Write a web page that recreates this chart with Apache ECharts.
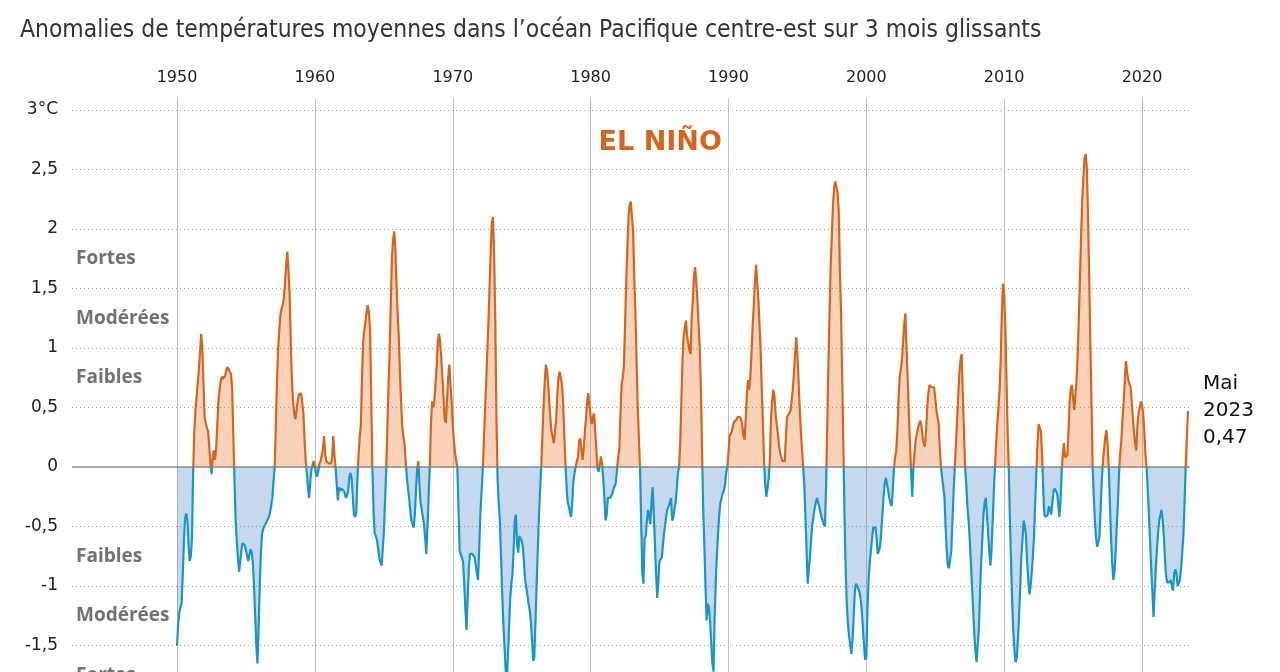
<!DOCTYPE html>
<html>
<head>
<meta charset="utf-8">
<script src="https://cdn.jsdelivr.net/npm/echarts@6/dist/echarts.min.js"></script>
<style>
html,body{margin:0;padding:0;background:#ffffff;}
#chart{width:1280px;height:672px;}
</style>
</head>
<body>
<div id="chart"></div>
<script>
// ---------- DATA (3-month running mean SST anomaly, central-east Pacific, monthly from Jan 1950) ----------
const startYear = 1950;
const titleText = "Anomalies de températures moyennes dans l’océan Pacifique centre-est sur 3 mois glissants";
const monthNamesFr = ["Janv.", "Févr.", "Mars", "Avril", "Mai", "Juin", "Juil.", "Août", "Sept.", "Oct.", "Nov.", "Déc."];

const anom1950s = [
  -1.50, -1.32, -1.22, -1.18, -1.14, -0.90, -0.62, -0.43, -0.39, -0.45, -0.65, -0.79,
  -0.75, -0.60, -0.05, 0.30, 0.48, 0.58, 0.70, 0.82, 0.96, 1.12, 1.00, 0.70,
  0.42, 0.37, 0.33, 0.30, 0.18, 0.04, -0.06, 0.08, 0.14, 0.06, 0.15, 0.35,
  0.55, 0.65, 0.72, 0.76, 0.74, 0.73, 0.77, 0.82, 0.84, 0.82, 0.80, 0.78,
  0.65, 0.25, -0.10, -0.45, -0.62, -0.76, -0.88, -0.80, -0.70, -0.64, -0.63, -0.66,
  -0.70, -0.75, -0.79, -0.74, -0.69, -0.72, -0.80, -1.00, -1.25, -1.50, -1.65, -1.35,
  -1.00, -0.72, -0.56, -0.52, -0.50, -0.48, -0.46, -0.44, -0.42, -0.38, -0.32, -0.26,
  -0.12, 0.00, 0.35, 0.72, 1.00, 1.15, 1.28, 1.33, 1.36, 1.42, 1.55, 1.70,
  1.81, 1.65, 1.45, 1.05, 0.72, 0.55, 0.45, 0.40, 0.48, 0.55, 0.61, 0.60,
  0.62, 0.62, 0.45, 0.23, 0.05, -0.05, -0.18, -0.26, -0.12, -0.02, 0.02, 0.05
];
const anom1960s = [
  0.00, -0.06, -0.08, -0.03, 0.03, 0.05, 0.05, 0.15, 0.26, 0.10, 0.05, 0.04,
  0.03, 0.04, 0.03, 0.08, 0.26, 0.10, 0.00, -0.15, -0.28, -0.17, -0.20, -0.18,
  -0.17, -0.20, -0.22, -0.26, -0.24, -0.20, -0.08, -0.05, -0.10, -0.25, -0.40, -0.42,
  -0.39, -0.10, 0.10, 0.25, 0.35, 0.75, 1.05, 1.15, 1.22, 1.30, 1.36, 1.30,
  1.16, 0.60, 0.00, -0.35, -0.56, -0.58, -0.61, -0.68, -0.76, -0.80, -0.83, -0.70,
  -0.55, -0.30, -0.05, 0.30, 0.65, 0.95, 1.35, 1.75, 1.90, 1.98, 1.85, 1.55,
  1.30, 1.10, 0.80, 0.55, 0.35, 0.25, 0.20, 0.05, -0.08, -0.18, -0.26, -0.36,
  -0.45, -0.48, -0.51, -0.40, -0.20, -0.02, 0.05, -0.15, -0.30, -0.36, -0.36, -0.48,
  -0.60, -0.73, -0.50, -0.25, 0.00, 0.35, 0.55, 0.50, 0.55, 0.70, 0.85, 1.05,
  1.12, 1.05, 0.92, 0.75, 0.58, 0.40, 0.37, 0.55, 0.75, 0.86, 0.70, 0.55
];
const anom1970s = [
  0.35, 0.22, 0.12, 0.05, 0.00, -0.35, -0.70, -0.74, -0.76, -0.80, -0.98, -1.20,
  -1.37, -1.10, -0.85, -0.73, -0.73, -0.73, -0.74, -0.76, -0.82, -0.90, -0.95, -0.70,
  -0.40, -0.22, -0.05, 0.20, 0.45, 0.68, 0.95, 1.20, 1.50, 1.80, 2.05, 2.10,
  1.80, 1.25, 0.45, -0.10, -0.30, -0.45, -0.75, -1.05, -1.30, -1.50, -1.70, -1.80,
  -1.60, -1.35, -1.10, -0.98, -0.90, -0.70, -0.45, -0.40, -0.65, -0.72, -0.58, -0.58,
  -0.62, -0.67, -0.80, -0.95, -1.01, -1.08, -1.15, -1.20, -1.30, -1.45, -1.63, -1.60,
  -1.30, -1.00, -0.70, -0.42, -0.20, 0.00, 0.25, 0.50, 0.70, 0.86, 0.82, 0.70,
  0.55, 0.40, 0.30, 0.25, 0.20, 0.30, 0.40, 0.60, 0.75, 0.80, 0.79, 0.70,
  0.55, 0.30, 0.05, -0.15, -0.30, -0.33, -0.38, -0.42, -0.30, -0.12, -0.05, 0.00,
  0.05, 0.08, 0.22, 0.24, 0.15, 0.06, 0.15, 0.30, 0.40, 0.55, 0.62, 0.52
];
const anom1980s = [
  0.42, 0.36, 0.42, 0.45, 0.30, 0.15, -0.02, -0.04, -0.05, 0.09, 0.02, -0.10,
  -0.26, -0.45, -0.40, -0.26, -0.26, -0.26, -0.26, -0.22, -0.18, -0.16, -0.13, -0.02,
  0.08, 0.15, 0.45, 0.70, 0.75, 0.85, 1.20, 1.55, 1.85, 2.10, 2.20, 2.23,
  2.10, 1.98, 1.60, 1.30, 0.90, 0.51, 0.25, 0.00, -0.45, -0.89, -0.98, -0.60,
  -0.58, -0.45, -0.36, -0.42, -0.48, -0.30, -0.17, -0.40, -0.65, -0.90, -1.10, -0.95,
  -0.79, -0.78, -0.76, -0.65, -0.55, -0.48, -0.40, -0.35, -0.33, -0.30, -0.26, -0.45,
  -0.42, -0.35, -0.30, -0.18, -0.05, 0.00, 0.20, 0.55, 0.90, 1.10, 1.17, 1.23,
  1.10, 1.04, 0.98, 0.95, 1.25, 1.40, 1.60, 1.68, 1.55, 1.40, 1.20, 1.00,
  0.65, 0.15, -0.35, -0.65, -1.00, -1.29, -1.15, -1.18, -1.29, -1.48, -1.65, -1.72,
  -1.25, -0.95, -0.73, -0.55, -0.40, -0.30, -0.26, -0.22, -0.20, -0.15, -0.05, 0.00
];
const anom1990s = [
  0.12, 0.26, 0.28, 0.30, 0.35, 0.38, 0.39, 0.40, 0.42, 0.42, 0.42, 0.40,
  0.35, 0.26, 0.23, 0.40, 0.60, 0.73, 0.65, 0.75, 0.95, 1.17, 1.35, 1.55,
  1.70, 1.55, 1.42, 1.20, 0.98, 0.65, 0.36, 0.05, -0.15, -0.25, -0.25, -0.10,
  0.05, 0.40, 0.55, 0.65, 0.60, 0.45, 0.36, 0.28, 0.18, 0.12, 0.08, 0.05,
  0.05, 0.05, 0.25, 0.42, 0.44, 0.45, 0.47, 0.48, 0.65, 0.79, 0.95, 1.09,
  0.95, 0.73, 0.50, 0.30, 0.15, 0.00, -0.15, -0.42, -0.70, -0.98, -0.85, -0.76,
  -0.60, -0.48, -0.42, -0.35, -0.30, -0.26, -0.30, -0.33, -0.38, -0.42, -0.45, -0.48,
  -0.50, -0.15, 0.35, 0.85, 1.30, 1.70, 1.95, 2.20, 2.35, 2.40, 2.40, 2.30,
  2.15, 1.65, 1.30, 0.75, 0.20, -0.40, -0.85, -1.15, -1.32, -1.42, -1.50, -1.57,
  -1.45, -1.26, -1.05, -0.98, -1.00, -1.02, -1.05, -1.10, -1.20, -1.35, -1.50, -1.62
];
const anom2000s = [
  -1.60, -1.20, -0.95, -0.80, -0.70, -0.60, -0.51, -0.51, -0.51, -0.60, -0.73, -0.70,
  -0.67, -0.55, -0.40, -0.25, -0.14, -0.09, -0.09, -0.20, -0.26, -0.30, -0.33, -0.20,
  -0.02, 0.08, 0.13, 0.30, 0.55, 0.75, 0.82, 0.90, 1.05, 1.20, 1.29, 1.00,
  0.75, 0.45, 0.20, -0.05, -0.25, 0.00, 0.12, 0.23, 0.28, 0.33, 0.36, 0.39,
  0.35, 0.25, 0.20, 0.17, 0.30, 0.50, 0.62, 0.69, 0.68, 0.67, 0.67, 0.67,
  0.58, 0.48, 0.42, 0.36, 0.15, 0.00, -0.09, -0.09, -0.25, -0.50, -0.70, -0.83,
  -0.85, -0.86, -0.70, -0.45, -0.20, 0.00, 0.18, 0.39, 0.60, 0.79, 0.90, 0.95,
  0.60, 0.30, 0.00, -0.15, -0.33, -0.45, -0.60, -0.80, -1.00, -1.20, -1.40, -1.55,
  -1.64, -1.50, -1.35, -1.05, -0.80, -0.60, -0.40, -0.30, -0.26, -0.40, -0.55, -0.70,
  -0.83, -0.70, -0.45, -0.20, 0.00, 0.20, 0.36, 0.50, 0.65, 0.90, 1.30, 1.54
];
const anom2010s = [
  1.45, 1.20, 0.75, 0.30, 0.00, -0.45, -0.80, -1.15, -1.39, -1.55, -1.64, -1.60,
  -1.45, -1.25, -1.00, -0.75, -0.60, -0.45, -0.50, -0.58, -0.80, -0.95, -1.07, -1.00,
  -0.89, -0.75, -0.58, -0.30, -0.05, 0.20, 0.36, 0.36, 0.30, 0.10, -0.20, -0.40,
  -0.42, -0.42, -0.40, -0.33, -0.36, -0.40, -0.30, -0.20, -0.18, -0.17, -0.22, -0.30,
  -0.42, -0.30, -0.05, 0.10, 0.20, 0.08, 0.08, 0.10, 0.30, 0.55, 0.66, 0.69,
  0.58, 0.48, 0.60, 0.73, 0.95, 1.25, 1.60, 1.95, 2.25, 2.45, 2.60, 2.63,
  2.50, 2.10, 1.60, 1.05, 0.55, 0.00, -0.25, -0.45, -0.60, -0.67, -0.63, -0.58,
  -0.35, -0.11, 0.05, 0.15, 0.25, 0.31, 0.20, 0.00, -0.30, -0.58, -0.80, -0.95,
  -0.88, -0.72, -0.50, -0.30, -0.05, 0.12, 0.22, 0.40, 0.55, 0.72, 0.89, 0.80,
  0.73, 0.70, 0.67, 0.55, 0.42, 0.30, 0.20, 0.14, 0.35, 0.45, 0.50, 0.55
];
const anom2020s = [
  0.52, 0.45, 0.30, 0.10, 0.00, -0.20, -0.40, -0.62, -0.85, -1.05, -1.26, -1.05,
  -0.85, -0.70, -0.55, -0.45, -0.40, -0.36, -0.45, -0.58, -0.78, -0.92, -0.97, -0.98,
  -0.97, -0.95, -1.00, -1.04, -0.90, -0.86, -0.90, -1.00, -1.00, -0.95, -0.85, -0.72,
  -0.58, -0.30, 0.00, 0.25, 0.47
];

const decadeTicks = [1950, 1960, 1970, 1980, 1990, 2000, 2010, 2020];
const intensityNames = ["Faibles", "Modérées", "Fortes"];
const intensityThresholds = [0.5, 1.0, 1.5, 2.0];
const phaseLabel = "EL NIÑO";

// ---------- BUILD ----------
const values = [].concat(anom1950s, anom1960s, anom1970s, anom1980s, anom1990s, anom2000s, anom2010s, anom2020s);
const seriesData = values.map((v, i) => [startYear + i / 12, v]);
const lastIdx = values.length - 1;
const lastMonth = monthNamesFr[lastIdx % 12];
const lastYear = startYear + Math.floor(lastIdx / 12);

const X_MIN = 1942.38, X_MAX = 2023.48;
const Y_MIN = -2.5, Y_MAX = 3.1;
const FONT_LBL = "'DejaVu Sans', sans-serif";
const ORANGE = '#d4651c', BLUE = '#1697c7';

const annotData = [];
intensityNames.forEach((name, k) => {
  const mid = (intensityThresholds[k] + intensityThresholds[k + 1]) / 2;
  [mid, -mid].forEach(v => annotData.push({
    value: [X_MIN, v],
    label: { show: true, position: 'right', distance: 3.5, formatter: name,
      color: '#727272', fontWeight: 'bold', fontSize: 19, fontFamily: "'Open Sans', sans-serif" }
  }));
});
annotData.push({
  value: [1985.05, 2.72],
  label: { show: true, position: 'inside', formatter: phaseLabel, color: ORANGE,
    fontWeight: 'bold', fontSize: 27, fontFamily: "'DejaVu Sans', sans-serif" }
});

const chart = echarts.init(document.getElementById('chart'), null, { renderer: 'canvas' });
const option = {
  animation: false,
  backgroundColor: '#ffffff',
  title: {
    text: titleText, left: 15, top: 14,
    textStyle: { fontFamily: "'DejaVu Sans Condensed', 'DejaVu Sans', sans-serif", fontSize: 24.4, fontWeight: 'normal', color: '#333333' }
  },
  grid: { left: 72, top: 98.1, width: 1118, height: 666.4, containLabel: false, outerBoundsMode: 'none' },
  xAxis: {
    type: 'value', position: 'top', min: X_MIN, max: X_MAX,
    splitNumber: 8, minInterval: 10, maxInterval: 10,
    axisLine: { show: false }, axisTick: { show: false },
    axisLabel: {
      margin: 12, showMinLabel: false, showMaxLabel: false,
      formatter: v => (decadeTicks.indexOf(Math.round(v)) >= 0 ? String(Math.round(v)) : ''),
      color: '#222222', fontSize: 16, fontFamily: FONT_LBL
    },
    splitLine: { show: true, showMinLine: false, showMaxLine: false, lineStyle: { color: '#bfbfbf', width: 1 } }
  },
  yAxis: {
    type: 'value', min: Y_MIN, max: Y_MAX, interval: 0.5,
    axisLine: { show: false }, axisTick: { show: false },
    axisLabel: {
      margin: 14, showMaxLabel: false,
      formatter: v => (v === 3 ? '3°C' : String(v).replace('.', ',')),
      color: '#222222', fontSize: 17, fontFamily: FONT_LBL
    },
    splitLine: { show: true, showMaxLine: false, lineStyle: { color: '#9a9a9a', width: 1, type: [1, 3] } }
  },
  visualMap: [
    { type: 'piecewise', show: false, dimension: 1, seriesIndex: 0,
      pieces: [{ gte: -10, lt: 0, color: 'rgba(70,130,200,0.31)' }, { gte: 0, lte: 10, color: 'rgba(238,130,60,0.36)' }] },
    { type: 'piecewise', show: false, dimension: 1, seriesIndex: 1,
      pieces: [{ gte: -10, lt: 0, color: BLUE }, { gte: 0, lte: 10, color: ORANGE }] }
  ],
  series: [
    {
      name: 'aire', type: 'line', data: seriesData, showSymbol: false, symbol: 'none', silent: true,
      lineStyle: { width: 0 }, areaStyle: { opacity: 1 }, z: 2,
      markLine: {
        silent: true, symbol: 'none', label: { show: false },
        lineStyle: { color: '#8a8a8a', width: 1.5, type: 'solid' },
        data: [{ yAxis: 0 }]
      }
    },
    {
      name: 'anomalie', type: 'line', data: seriesData, showSymbol: false, symbol: 'none', silent: true,
      lineStyle: { width: 2.2 }, z: 6,
      endLabel: {
        show: true, distance: 15, align: 'left', verticalAlign: 'middle',
        formatter: p => lastMonth + '\n' + lastYear + '\n' + p.value[1].toFixed(2).replace('.', ','),
        color: '#111111', fontSize: 20, lineHeight: 27, fontFamily: "'DejaVu Sans', sans-serif"
      }
    },
    {
      name: 'annotations', type: 'scatter', data: annotData, symbolSize: 1, silent: true, z: 7,
      itemStyle: { color: 'rgba(0,0,0,0)', opacity: 1 }
    }
  ]
};
chart.setOption(option);
</script>
</body>
</html>
